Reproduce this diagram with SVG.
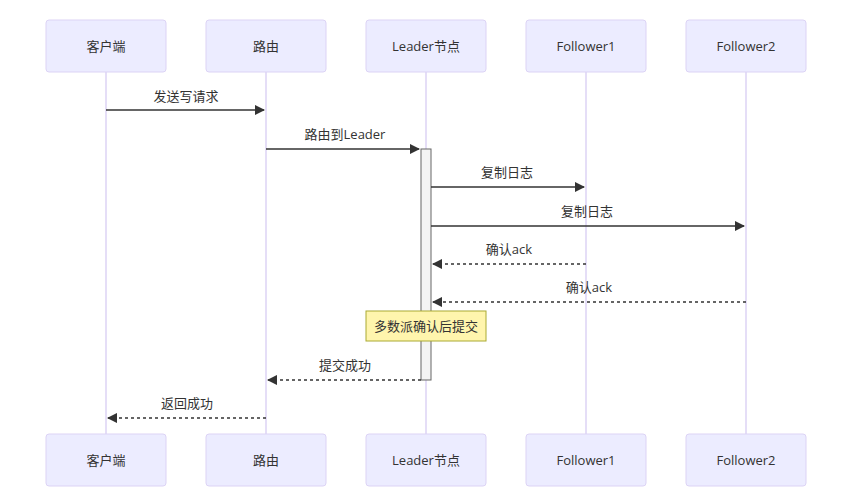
<svg xmlns="http://www.w3.org/2000/svg" width="849" height="504" viewBox="0 0 849 504">
<style>
.actor{fill:#ECECFF;stroke:#DCD3F5;stroke-width:1}
.life{stroke:#DCD3F5;stroke-width:1.5}
.t{font-family:"Open Sans","Noto Sans CJK SC",sans-serif;font-size:13px;fill:#333;text-anchor:middle;dominant-baseline:central}
.m{stroke:#333;stroke-width:1.3;fill:none}
.d{stroke-dasharray:3,3}
</style>
<defs>
<marker id="ah" viewBox="0 0 10 10" refX="9" refY="5" markerWidth="8" markerHeight="8" orient="auto"><path d="M0,0L10,5L0,10z" fill="#333"/></marker>
</defs>
<rect width="849" height="504" fill="#fff"/>
<g id="lifelines">
<line class="life" x1="106" y1="72" x2="106" y2="434"/>
<line class="life" x1="266" y1="72" x2="266" y2="434"/>
<line class="life" x1="426" y1="72" x2="426" y2="434"/>
<line class="life" x1="586" y1="72" x2="586" y2="434"/>
<line class="life" x1="746" y1="72" x2="746" y2="434"/>
</g>
<g id="client"><rect class="actor" x="46" y="20" width="120" height="52" rx="3"/><text class="t" x="106" y="46">客户端</text><rect class="actor" x="46" y="434" width="120" height="52" rx="3"/><text class="t" x="106" y="460">客户端</text></g>
<g id="router"><rect class="actor" x="206" y="20" width="120" height="52" rx="3"/><text class="t" x="266" y="46">路由</text><rect class="actor" x="206" y="434" width="120" height="52" rx="3"/><text class="t" x="266" y="460">路由</text></g>
<g id="leader"><rect class="actor" x="366" y="20" width="120" height="52" rx="3"/><text class="t" x="426" y="46">Leader节点</text><rect class="actor" x="366" y="434" width="120" height="52" rx="3"/><text class="t" x="426" y="460">Leader节点</text></g>
<g id="follower1"><rect class="actor" x="526" y="20" width="120" height="52" rx="3"/><text class="t" x="586" y="46">Follower1</text><rect class="actor" x="526" y="434" width="120" height="52" rx="3"/><text class="t" x="586" y="460">Follower1</text></g>
<g id="follower2"><rect class="actor" x="686" y="20" width="120" height="52" rx="3"/><text class="t" x="746" y="46">Follower2</text><rect class="actor" x="686" y="434" width="120" height="52" rx="3"/><text class="t" x="746" y="460">Follower2</text></g>
<g id="activation"><rect x="421" y="149" width="10" height="231" fill="#F4F4F4" stroke="#666"/></g>
<g id="connectors">
<line class="m" x1="106" y1="110" x2="264" y2="110" marker-end="url(#ah)"/><text class="t" x="186" y="96">发送写请求</text>
<line class="m" x1="266" y1="149" x2="419" y2="149" marker-end="url(#ah)"/><text class="t" x="345" y="134">路由到Leader</text>
<line class="m" x1="431" y1="187" x2="584" y2="187" marker-end="url(#ah)"/><text class="t" x="507" y="172">复制日志</text>
<line class="m" x1="431" y1="226" x2="744" y2="226" marker-end="url(#ah)"/><text class="t" x="587" y="211">复制日志</text>
<line class="m d" x1="586" y1="264" x2="433" y2="264" marker-end="url(#ah)"/><text class="t" x="509" y="249">确认ack</text>
<line class="m d" x1="746" y1="302" x2="433" y2="302" marker-end="url(#ah)"/><text class="t" x="589" y="287">确认ack</text>
<line class="m d" x1="421" y1="380" x2="268" y2="380" marker-end="url(#ah)"/><text class="t" x="345" y="365">提交成功</text>
<line class="m d" x1="266" y1="418" x2="108" y2="418" marker-end="url(#ah)"/><text class="t" x="187" y="403">返回成功</text>
</g>
<g id="note"><rect x="366" y="311" width="120" height="30" fill="#FFF5AD" stroke="#AAAA33"/><text class="t" x="426" y="326">多数派确认后提交</text></g>
</svg>
